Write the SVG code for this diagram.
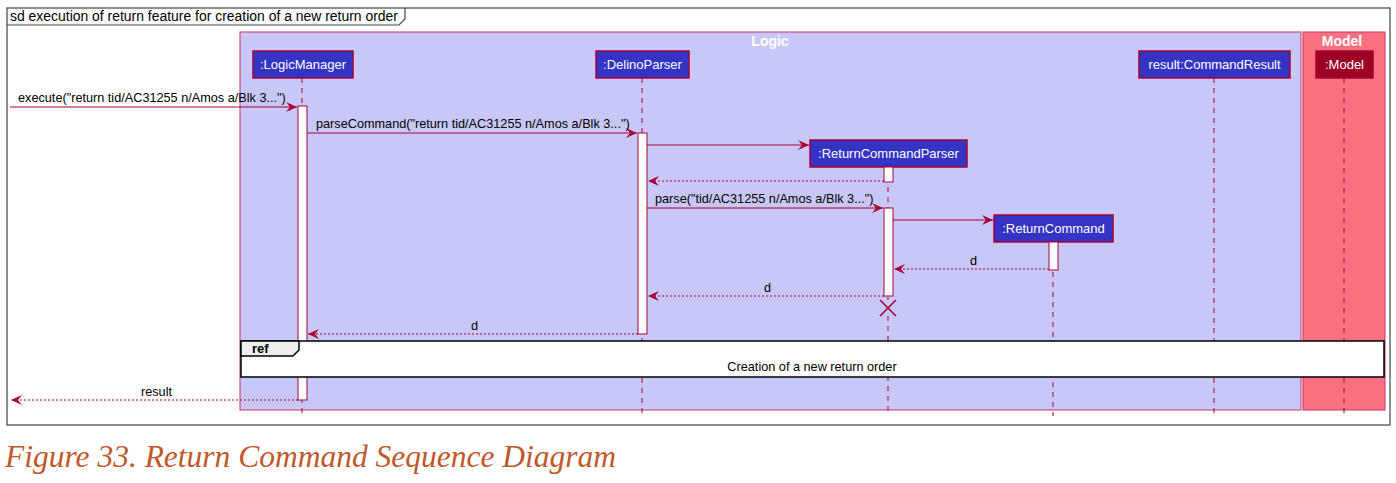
<svg xmlns="http://www.w3.org/2000/svg" width="1396" height="483" viewBox="0 0 1396 483">
<defs>
<style>
.t{font-family:"Liberation Sans",Arial,sans-serif;font-size:12.7px;fill:#000}
.pt{font-family:"Liberation Sans",Arial,sans-serif;font-size:13px;fill:#fff;text-anchor:middle}
.part{fill:#3333C4;stroke:#A80036;stroke-width:1.5}
.life{stroke:#A80036;stroke-width:1;stroke-dasharray:5,5;fill:none}
.act{fill:#fff;stroke:#A80036;stroke-width:1}
.msg{stroke:#A80036;stroke-width:1;fill:none}
.ret{stroke:#A80036;stroke-width:1;stroke-dasharray:2,2;fill:none}
</style>
<marker id="ah" viewBox="0 0 12 10" refX="11" refY="5" markerWidth="12" markerHeight="10" markerUnits="userSpaceOnUse" orient="auto">
<path d="M0,0 L11,5 L0,10 L4,5 Z" fill="#A80036"/>
</marker>
</defs>
<rect width="1396" height="483" fill="#fff"/>
<g id="frame">
<rect x="7" y="8" width="1383" height="417" fill="#fff" stroke="#444" stroke-width="1.2"/>
<path d="M7,25 L399,25 L405,19 L405,8" fill="none" stroke="#444" stroke-width="1.2"/>
<text x="10" y="21" font-family="Liberation Sans,Arial,sans-serif" font-size="14" fill="#000" textLength="388" lengthAdjust="spacingAndGlyphs">sd execution of return feature for creation of a new return order</text>
</g>
<g id="box-logic">
<rect x="240" y="32" width="1061" height="378" fill="#C8C8F8" stroke="#CC3366" stroke-width="1"/>
<text x="770" y="46" font-family="Liberation Sans,Arial,sans-serif" font-size="14" font-weight="bold" fill="#fff" text-anchor="middle">Logic</text>
</g>
<g id="box-model">
<rect x="1303" y="32" width="82" height="378" fill="#F97181" stroke="#CC3366" stroke-width="1"/>
<text x="1342" y="46" font-family="Liberation Sans,Arial,sans-serif" font-size="14" font-weight="bold" fill="#fff" text-anchor="middle">Model</text>
</g>
<g id="lifelines">
<line class="life" x1="302" y1="78" x2="302" y2="416"/>
<line class="life" x1="642" y1="78" x2="642" y2="416"/>
<line class="life" x1="1214" y1="78" x2="1214" y2="416"/>
<line class="life" x1="1344" y1="78" x2="1344" y2="416"/>
<line class="life" x1="888" y1="167" x2="888" y2="300"/>
<line class="life" x1="888" y1="316" x2="888" y2="416"/>
<line class="life" x1="1053" y1="242" x2="1053" y2="416"/>
</g>
<g id="p-logicmanager"><rect class="part" x="253" y="51" width="100" height="27"/><text class="pt" x="303" y="69">:LogicManager</text></g>
<g id="p-delinoparser"><rect class="part" x="596" y="51" width="93" height="27"/><text class="pt" x="642.5" y="69">:DelinoParser</text></g>
<g id="p-commandresult"><rect class="part" x="1139" y="51" width="151" height="27"/><text class="pt" x="1214.5" y="69">result:CommandResult</text></g>
<g id="p-model"><rect x="1316" y="51" width="57" height="27" fill="#9D0025" stroke="#A80036" stroke-width="1.5"/><text class="pt" x="1344.5" y="69">:Model</text></g>
<g id="p-returncommandparser"><rect class="part" x="810" y="140" width="157" height="27"/><text class="pt" x="888.5" y="158">:ReturnCommandParser</text></g>
<g id="p-returncommand"><rect class="part" x="994" y="215" width="119" height="27"/><text class="pt" x="1053.5" y="233">:ReturnCommand</text></g>
<g id="activations">
<rect class="act" x="298" y="106" width="9" height="294"/>
<rect class="act" x="638" y="133" width="9" height="201"/>
<rect class="act" x="884" y="167" width="9" height="15"/>
<rect class="act" x="884" y="208" width="9" height="88"/>
<rect class="act" x="1049" y="242" width="9" height="28"/>
</g>
<g id="connectors">
<line class="msg" x1="10" y1="107" x2="297" y2="107" marker-end="url(#ah)"/>
<text class="t" x="18" y="102">execute("return tid/AC31255 n/Amos a/Blk 3...")</text>
<line class="msg" x1="307" y1="133" x2="637" y2="133" marker-end="url(#ah)"/>
<text class="t" x="316" y="128">parseCommand("return tid/AC31255 n/Amos a/Blk 3...")</text>
<line class="msg" x1="647" y1="145" x2="809" y2="145" marker-end="url(#ah)"/>
<line class="ret" x1="884" y1="181" x2="648" y2="181" marker-end="url(#ah)"/>
<line class="msg" x1="647" y1="208" x2="883" y2="208" marker-end="url(#ah)"/>
<text class="t" x="655" y="203">parse("tid/AC31255 n/Amos a/Blk 3...")</text>
<line class="msg" x1="893" y1="220" x2="993" y2="220" marker-end="url(#ah)"/>
<line class="ret" x1="1049" y1="269" x2="894" y2="269" marker-end="url(#ah)"/>
<text class="t" x="970" y="265">d</text>
<line class="ret" x1="884" y1="296" x2="648" y2="296" marker-end="url(#ah)"/>
<text class="t" x="764" y="292">d</text>
<path d="M880,300 L896,316 M896,300 L880,316" stroke="#A80036" stroke-width="1.6" fill="none"/>
<line class="ret" x1="638" y1="334" x2="308" y2="334" marker-end="url(#ah)"/>
<text class="t" x="471" y="330">d</text>
<line class="ret" x1="298" y1="400" x2="11" y2="400" marker-end="url(#ah)"/>
<text class="t" x="141" y="396">result</text>
</g>
<g id="ref">
<rect x="241" y="341" width="1143" height="36" fill="#fff" stroke="#000" stroke-width="1.5"/>
<path d="M241,356 L293,356 L299,350 L299,341 L241,341 Z" fill="#EEEEEE" stroke="#000" stroke-width="1.5"/>
<text x="252" y="353" font-family="Liberation Sans,Arial,sans-serif" font-size="13" font-weight="bold" fill="#000">ref</text>
<text class="t" x="812" y="371" text-anchor="middle">Creation of a new return order</text>
</g>
<text x="5" y="467" font-family="Liberation Serif,'Times New Roman',serif" font-style="italic" font-size="32" fill="#C0582A" textLength="611" lengthAdjust="spacingAndGlyphs">Figure 33. Return Command Sequence Diagram</text>
</svg>
